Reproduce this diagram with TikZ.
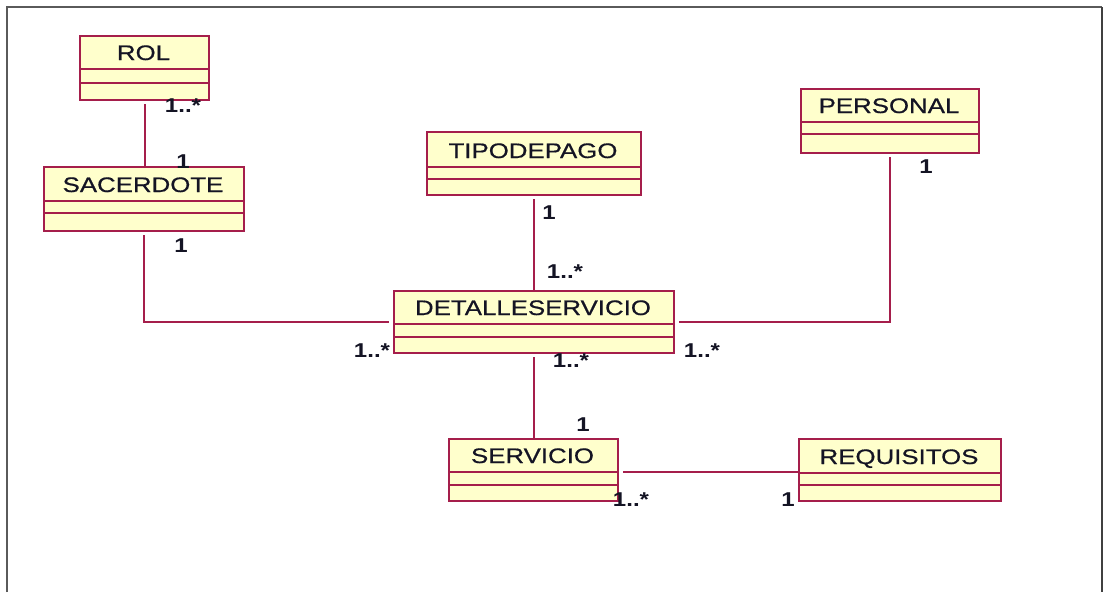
\documentclass[tikz,border=0pt]{standalone}
\usepackage{fontspec}
\setmainfont{Liberation Sans}
\newfontfamily\clsfont[FakeStretch=1.23,FakeBold=0.6]{Liberation Sans}
\newfontfamily\multfont[FakeStretch=1.2]{Liberation Sans}
\definecolor{umledge}{RGB}{165,30,75}
\definecolor{umlfill}{RGB}{255,255,204}
\definecolor{umltext}{RGB}{20,20,36}
\definecolor{framecol}{RGB}{90,90,90}
\newcommand\umlclass[8]{%
  \node[clsbox, anchor=north west, minimum width={#4-#2}, minimum height={#5-#3}] (#1) at (#2,#3) {};
  \draw[clsrule] (#2,#6) -- (#4,#6);
  \draw[clsrule] (#2,#7) -- (#4,#7);
  \node[clsname, anchor=base] (#1-name) at ({(#2+#4)/2},{#6-9}) {#8};
}
\begin{document}
\begin{tikzpicture}[x=1pt,y=-1pt,
  clsbox/.style={draw=umledge, fill=umlfill, line width=2pt, inner sep=0pt, rectangle},
  clsrule/.style={draw=umledge, line width=1.8pt},
  clsname/.style={font=\clsfont\fontsize{21}{24}\selectfont, text=umltext, inner sep=0pt},
  mult/.style={font=\multfont\bfseries\fontsize{20}{22}\selectfont, text=umltext, inner sep=0pt, anchor=base},
  assoc/.style={draw=umledge, line width=2pt},
  framestyle/.style={draw=framecol, line width=1.6pt}]
\useasboundingbox (0,0) rectangle (1105,592);
\fill[white] (0,0) rectangle (1105,592);
% frame
\coordinate (fbl) at (7,592);
\coordinate (ftl) at (7,7);
\coordinate (ftr) at (1102,7);
\coordinate (fbr) at (1102,592);
\draw[framestyle] (fbl) -- (ftl) -- (ftr);
\draw[draw=black!75, line width=2.4pt] (ftr) -- (fbr);
% classes
\umlclass{rol}{79}{35}{208}{99}{69}{83}{ROL}
\umlclass{sac}{43}{166}{243}{230}{201}{213}{SACERDOTE}
\umlclass{tip}{426}{131}{640}{194}{167}{179}{TIPODEPAGO}
\umlclass{per}{800}{88}{978}{152}{122}{134}{PERSONAL}
\umlclass{det}{393}{290}{673}{352}{324}{337}{DETALLESERVICIO}
\umlclass{ser}{448}{438}{617}{500}{472}{485}{SERVICIO}
\umlclass{req}{798}{438}{1000}{500}{473}{485}{REQUISITOS}
% associations
\draw[assoc, shorten <=3pt] (rol.south) -- (rol.south |- sac.north);
\draw[assoc, shorten <=3pt, shorten >=4pt] (sac.south) |- (det.west);
\draw[assoc, shorten <=3pt] (tip.south) -- (tip.south |- det.north);
\draw[assoc, shorten <=3pt, shorten >=4pt] (per.south) |- (det.east);
\draw[assoc, shorten <=3pt] (det.south) -- (det.south |- ser.north);
\draw[assoc, shorten <=4pt] ([yshift=-2pt]ser.east) -- ([yshift=-2pt]req.west);
% multiplicities
\node[mult] (m1) at (183,112) {1..*};
\node[mult] (m2) at (183,168) {1};
\node[mult] (m3) at (181,252) {1};
\node[mult] (m4) at (549,219) {1};
\node[mult] (m5) at (565,278) {1..*};
\node[mult] (m6) at (926,173) {1};
\node[mult] (m7) at (372,357) {1..*};
\node[mult] (m8) at (571,367) {1..*};
\node[mult] (m9) at (702,357) {1..*};
\node[mult] (m10) at (583,431) {1};
\node[mult] (m11) at (631,506) {1..*};
\node[mult] (m12) at (788,506) {1};
\end{tikzpicture}
\end{document}
